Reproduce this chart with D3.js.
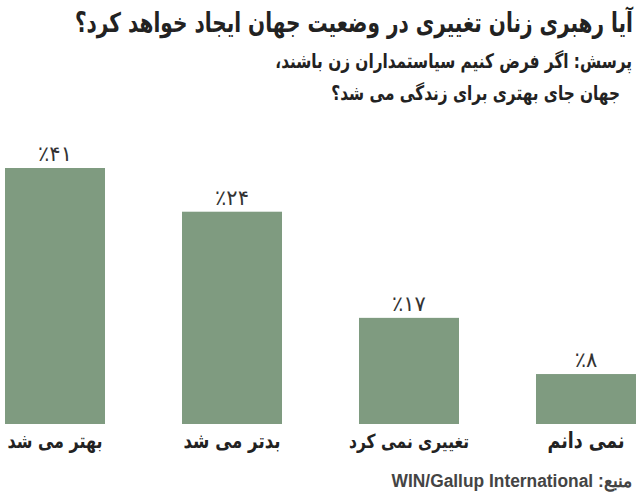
<!DOCTYPE html>
<html><head><meta charset="utf-8">
<script src="https://cdn.jsdelivr.net/npm/d3@7"></script>
<style>body{margin:0;background:#fff}svg{display:block}</style>
</head><body>
<svg id="c" width="640" height="502"></svg>
<script>
const categories = ["بهتر می شد", "بدتر می شد", "تغییری نمی کرد", "نمی دانم"];
const barValues = [41, 34, 17, 8];           // bar lengths as drawn in the picture
const valueLabels = ["٪۴۱", "٪۲۴", "٪۱۷", "٪۸"];
const title = "آیا رهبری زنان تغییری در وضعیت جهان ایجاد خواهد کرد؟";
const subtitle = ["پرسش: اگر فرض کنیم سیاستمداران زن باشند،", "جهان جای بهتری برای زندگی می شد؟"];
const source = "منبع: WIN/Gallup International";

const svg = d3.select("#c");
const x = d3.scaleBand().domain(categories).range([5, 636]).paddingInner(0.435).paddingOuter(0);
const y = d3.scaleLinear().domain([0, 41]).range([424, 168]);
const color = "#7f9b80";
const font = "'DejaVu Sans', sans-serif";

// text fitted to a width, then stretched vertically to match the taller reference face
function stretchedText(parent, str, px, py, width, k, anchor, opts) {
  const g = parent.append("g").attr("transform", `translate(${px},${py}) scale(1,${k})`);
  const t = g.append("text").attr("x", 0).attr("y", 0).attr("direction", "rtl")
    .attr("text-anchor", anchor).attr("font-family", opts.family || font)
    .attr("font-weight", opts.weight || "bold").attr("font-size", 20).attr("fill", opts.fill || "#222").text(str);
  if (opts.size) { t.attr("font-size", opts.size); return t; }
  const l = t.node().getComputedTextLength();
  t.attr("font-size", 20 * width / l);
  return t;
}

stretchedText(svg, title, 633, 32, 558, 1.35, "start", {});
const s1 = stretchedText(svg, subtitle[0], 632, 68, 357, 1.3, "start", {});
stretchedText(svg, subtitle[1], 620, 100, 0, 1.3, "start", { size: s1.attr("font-size") });

svg.append("g").selectAll("rect").data(categories).join("rect")
  .attr("x", d => x(d)).attr("width", x.bandwidth())
  .attr("y", (d, i) => y(barValues[i])).attr("height", (d, i) => y(0) - y(barValues[i]))
  .attr("fill", color);

svg.append("g").selectAll("text").data(categories).join("text")
  .attr("x", d => x(d) + x.bandwidth() / 2).attr("y", (d, i) => y(barValues[i]) - 7)
  .attr("text-anchor", "middle").attr("font-family", font).attr("font-size", 21).attr("fill", "#333")
  .text((d, i) => valueLabels[i]);

const labelWidths = [95, 97, 120, 77];
const xAxis = d3.axisBottom(x).tickSize(0).tickPadding(0);
const ax = svg.append("g").attr("transform", `translate(0,${y(0)})`).call(xAxis);
ax.select(".domain").remove();
ax.selectAll(".tick text").remove();
ax.selectAll(".tick").each(function (d, i) {
  stretchedText(d3.select(this), d, 0, 24, labelWidths[i], 1.25, "middle", {});
});

stretchedText(svg, source, 633, 487, 241, 1.05, "start",
  { family: "'Liberation Sans', Arial, sans-serif", fill: "#444" });
</script>
</body></html>
